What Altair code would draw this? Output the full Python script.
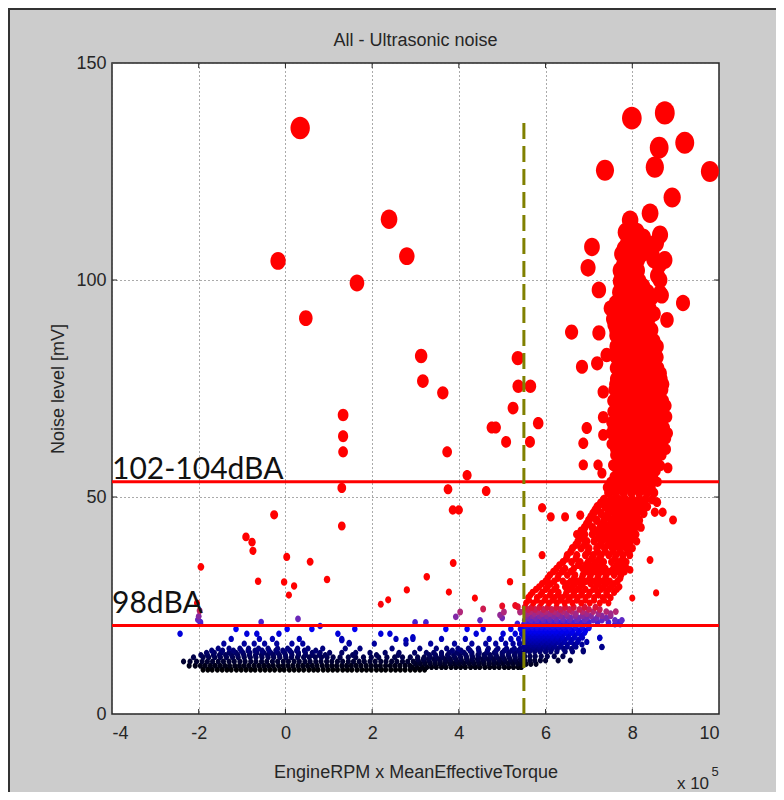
import altair as alt
import pandas as pd

# ---------------- data (x in units of 1e5, y in mV) ----------------
# isolated / large points
iso_x = [0.34, -0.17, 0.47, 1.65, 2.39, 2.8, 3.13, 3.17, 3.63, 3.73, 3.75, 3.86, 4.0, 4.19, 4.63,
         4.76, 4.85, 5.09, 5.25, 5.36, 5.37, 5.65, 5.64, 5.83, 5.92, 6.12, 6.45, 6.8,
         6.6, 6.84, 7.23, 7.23, 6.98, 7.07, 7.37, 7.99, 8.75, 8.52, 8.62, 9.21, 9.79, 8.92, 8.41,
         7.95, 8.64, 8.75, 7.76, 9.17, 8.8, 8.64, 8.64, 8.68,
         7.19, 7.41, 7.33, 7.33, 6.95, 7.33, 6.87, 6.87, 7.21, 7.55, 7.3, 8.82, 8.57, 8.52, 8.7,
         8.94, 8.18, 1.3, 1.3, 1.33, 1.33, 1.33, -0.26]
iso_y = [135, 104.4, 91.2, 99.3, 114, 105.5, 82.5, 76.7, 74, 60.4, 51.8, 47, 47, 55, 51.4,
         66, 66, 62.7, 70.5, 82, 75.5, 75.5, 62.7, 67, 47.5, 45.4, 45.4, 45.8,
         88, 80, 87.8, 97.7, 102.8, 107.6, 125.3, 137.3, 138.5, 126, 130.5, 131.6, 125, 119, 115.4,
         113.8, 110.4, 104.6, 106, 94.7, 90.8, 97, 100, 96.5,
         80.8, 82.7, 74.2, 68.4, 65.9, 64.3, 62.4, 57.4, 57.4, 57.4, 55.5, 56.7, 48.8, 46.5, 46.5,
         44.7, 47.5, 43.3, 52.1, 60.4, 64, 68.9, 45.9]

# small scattered red / purple / blue points
small_x = [-2.0, -1.98, -2.04, -1.95, -2.02, -1.96, -0.91, -0.77, -0.75, -0.63, -0.03, 0.2, 0.08,
           0.03, 0.57, 0.96, 2.2, 2.37, 2.8, 3.77, 4.37, 4.56, 5.18, 5.0, 3.26, 3.87,
           4.03, 3.93, 0.29, 4.49, 4.95, 5.04, 5.3, 5.41, 5.36, 5.0,
           -0.56, 0.8, 2.99, 3.24, -1.96, 5.35, 1.3, 1.47, 2.78, 2.94, 7.25, 7.3, 6.87,
           8.41, 8.55, 8.0, 7.95]
small_y = [22.5, 23.8, 25.6, 33.9, 21.7, 21.2, 40.8, 39.6, 37.6, 30.6, 30.4, 29.5, 27.4,
           36.2, 35.1, 31.0, 25.3, 26.3, 28.6, 28.1, 26.7, 24.2, 30.5, 24.9, 31.6, 34.8,
           23.5, 22.4, 21.9, 21.6, 22.8, 23.5, 25.0, 23.5, 24.7, 22.1,
           21.2, 20.3, 21.1, 21.1, 20.8, 20.8, 17.0, 16.4, 17.0, 17.7, 17.5, 15.4, 14.7,
           35.5, 27.9, 26.7, 33.2]

# dense dark band (rows: level, x values)
b102 = [-1.90, -1.79, -1.69, -1.57, -1.46, -1.35, -1.25, -1.13, -1.02, -0.91, -0.80, -0.70, -0.58,
        -0.47, -0.36, -0.25, -0.13, -0.03, 0.09, 0.20, 0.31, 0.42, 0.54, 0.65, 0.75, 0.87, 0.98,
        1.09, 1.20, 1.32, 1.43, 1.53, 1.65, 1.76, 1.87, 1.98, 2.10, 2.21, 2.31, 2.43, 2.54, 2.65,
        2.76, 2.88, 2.99, 3.10, 3.21]
b108 = [2.92, 3.03, 3.15, 3.26, 3.37, 3.48, 3.60, 3.70, 3.82, 3.93, 4.04, 4.15, 4.27, 4.38, 4.48,
        4.60, 4.71, 4.82, 4.93, 5.05, 5.15, 5.26, 5.37, 5.44]
b111 = [-2.22, -2.08, -1.96, -1.85, -1.73, -1.62, -1.51, -1.40, -1.29, -1.17, -1.06, -0.95, -0.84,
        -0.72, -0.61, -0.50, -0.39, -0.28, -0.16, -0.05, 0.06, 0.17, 0.29, 0.40, 0.51, 0.62, 0.73,
        0.85, 0.96, 1.07, 1.18, 1.30, 1.41, 1.52, 1.63, 1.74, 1.86, 1.97, 2.08, 2.19, 2.31, 2.42,
        2.53, 2.64, 2.76, 2.87]
b116 = [3.0, 3.11, 3.22, 3.34, 3.45, 3.56, 3.67, 3.79, 3.90, 4.01, 4.12, 4.24, 4.35, 4.46, 4.57,
        4.69, 4.80, 4.91, 5.02, 5.14, 5.25, 5.36, 5.45]
b121 = [-2.35, -2.2, -2.05, -1.92, -1.80, -1.68, -1.55, -1.43, -1.30, -1.18, -1.05, -0.93, -0.80,
        -0.68, -0.55, -0.43, -0.30, -0.18, -0.05, 0.07, 0.20, 0.32, 0.45, 0.57, 0.70, 0.82, 0.95,
        1.07, 1.20, 1.32, 1.45, 1.57, 1.70, 1.82, 1.95, 2.07, 2.20, 2.32, 2.45, 2.57, 2.70, 2.82,
        2.95, 3.07, 3.20, 3.32, 3.45, 3.57, 3.70, 3.82, 3.95, 4.07, 4.20, 4.32, 4.45, 4.57, 4.70,
        4.82, 4.95, 5.07, 5.20, 5.32, 5.44]
b126 = [3.05, 3.18, 3.3, 3.43, 3.55, 3.68, 3.8, 3.93, 4.05, 4.18, 4.3, 4.43, 4.55, 4.68, 4.8,
        4.93, 5.05, 5.18, 5.3, 5.42]
b131 = [-2.12, -1.9, -1.77, -1.63, -1.5, -1.36, -1.22, -1.09, -0.95, -0.81, -0.68, -0.54, -0.4,
        -0.27, -0.13, 0.01, 0.14, 0.28, 0.42, 0.55, 0.69, 0.83, 0.96, 1.1, 1.26, 1.45, 1.62, 1.8,
        1.98, 2.15, 2.34, 2.52, 2.7, 2.88, 3.05, 3.2, 3.34, 3.48, 3.62, 3.76, 3.9, 4.04, 4.18,
        4.32, 4.46, 4.6, 4.74, 4.88, 5.02, 5.16, 5.3, 5.43]
b136 = [-1.95, -1.8, -1.66, -1.52, -1.38, -1.24, -1.1, -0.96, -0.83, -0.69, -0.55, -0.41, -0.28,
        -0.14, 0.0, 0.15, 0.3, 0.46, 0.62, 0.78, 0.92, 1.55, 2.1, 2.6, 3.32, 3.46, 3.6, 3.74,
        3.88, 4.02, 4.16, 4.3, 4.44, 4.58, 4.72, 4.86, 5.0, 5.14, 5.28, 5.41]
b141 = [-1.82, -1.64, -1.48, -1.3, -1.14, -0.98, -0.82, -0.66, -0.5, -0.34, -0.18, -0.02, 0.14,
        0.3, 0.46, 0.62, 0.8, 1.02, 1.3, 1.62, 1.95, 2.3, 2.62, 2.98, 3.25, 3.42, 3.6, 3.78, 3.95,
        4.12, 4.3, 4.47, 4.64, 4.82, 5.0, 5.15, 5.3, 5.43]
b146 = [-1.7, -1.45, -1.2, -1.02, -0.86, -0.7, -0.54, -0.38, -0.22, -0.06, 0.1, 0.26, 0.44,
        0.7, 3.85, 4.05, 4.26, 4.46, 4.66, 4.86, 5.05, 5.22, 5.38]
b151 = [-1.55, -1.3, -1.05, -0.85, -0.62, -0.4, -0.18, 0.05, 0.28, 0.52, 0.86, 1.38, 1.72, 2.46,
        3.1, 3.48, 3.72, 3.98, 4.22, 4.45, 4.68, 4.9, 5.1, 5.28, 5.42]
b162 = [-1.42, -0.95, -0.72, -0.48, -0.2, 0.15, 0.4, 1.47, 2.05, 2.78, 3.35, 3.9, 4.3, 4.62, 4.85,
        5.08, 5.25, 5.4]
b173 = [-1.25, -0.6, -0.3, 0.32, 1.3, 2.55, 2.94, 3.6, 4.15, 4.7, 4.98, 5.2, 5.38]
b185 = [-2.43, -0.89, -0.66, -0.15, 1.21, 2.2, 2.41, 4.4, 5.02, 5.3, 5.45]
b196 = [-1.14, 0.04, 0.61, 1.6, 3.7, 4.19, 4.56, 5.2, 5.42]

# blue / purple cluster right of the dashed line
c115 = [5.55, 5.66, 5.78]
c123 = [5.52, 5.64, 5.75, 5.88, 6.0, 6.29, 6.57]
c133 = [5.52, 5.64, 5.76, 5.9, 6.04, 6.2, 6.4]
c144 = [5.52, 5.63, 5.75, 5.87, 6.0, 6.12, 6.26, 6.45, 6.62, 6.87]
c150 = [5.55, 5.67, 5.79, 5.9, 6.02, 6.14, 6.27, 6.42, 6.6]
c155 = [5.5, 5.6, 5.72, 5.84, 5.96, 6.08, 6.2, 6.34, 6.5, 6.7, 7.3]
c160 = [5.55, 5.65, 5.76, 5.86, 5.98, 6.1, 6.22, 6.36, 6.5, 6.66, 6.84]
c166 = [5.5, 5.6, 5.7, 5.8, 5.92, 6.04, 6.16, 6.28, 6.42, 6.58, 6.74, 6.95]
c171 = [5.55, 5.65, 5.75, 5.85, 5.96, 6.08, 6.2, 6.32, 6.45, 6.6, 6.76]
c176 = [5.5, 5.6, 5.7, 5.8, 5.9, 6.02, 6.14, 6.26, 6.38, 6.52, 6.66, 6.85, 7.25]
c181 = [5.55, 5.65, 5.75, 5.85, 5.95, 6.06, 6.16, 6.28, 6.4, 6.53, 6.68, 6.82]
c187 = [5.5, 5.6, 5.7, 5.8, 5.9, 6.0, 6.1, 6.22, 6.34, 6.46, 6.6, 6.75, 6.9]
c192 = [5.55, 5.65, 5.75, 5.85, 5.95, 6.05, 6.16, 6.26, 6.38, 6.5, 6.63, 6.78, 6.92]
c198 = [5.5, 5.6, 5.7, 5.8, 5.9, 6.0, 6.1, 6.2, 6.32, 6.44, 6.56, 6.7, 6.85, 7.0]
c202 = [5.56, 5.68, 5.8, 5.92, 6.04, 6.16, 6.28, 6.4, 6.53, 6.68, 6.84, 7.0]
c207 = [5.5, 5.62, 5.74, 5.86, 5.98, 6.1, 6.22, 6.34, 6.46, 6.6, 6.75, 6.92, 7.6, 7.72]
c211 = [5.58, 5.72, 5.88, 6.02, 6.16, 6.3, 6.46, 6.62, 6.8, 7.0, 7.2, 7.45, 7.68]
c216 = [5.52, 5.66, 5.8, 5.95, 6.1, 6.25, 6.4, 6.55, 6.72, 6.9, 7.1, 7.3, 7.6, 7.76]
c221 = [5.6, 5.76, 5.92, 6.08, 6.24, 6.4, 6.58, 6.76, 6.95, 7.18, 7.4]
c226 = [5.55, 5.7, 5.86, 6.02, 6.18, 6.34, 6.5, 6.68, 6.85, 7.05, 7.3, 7.5]
c231 = [5.58, 5.74, 5.92, 6.1, 6.28, 6.48, 6.7, 6.95, 7.22, 7.5]
c236 = [5.5, 5.65, 5.82, 6.0, 6.2, 6.4, 6.6, 6.85, 7.1, 7.4, 7.62]
c241 = [5.6, 5.76, 5.95, 6.14, 6.34, 6.55, 6.78, 7.0, 7.25]
c246 = [5.52, 5.68, 5.86, 6.05, 6.25, 6.45, 6.65, 6.9, 7.15]

# red rising cloud
r256 = [5.55, 5.72, 5.9, 6.08, 6.26, 6.44, 6.62, 6.82, 7.02, 7.25, 7.45]
r262 = [5.62, 5.8, 5.98, 6.16, 6.34, 6.52, 6.72, 6.92, 7.12, 7.35]
r268 = [5.6, 5.8, 6.0, 6.2, 6.38, 6.56, 6.74, 6.92, 7.12, 7.32, 7.5]
r274 = [5.65, 5.88, 6.1, 6.28, 6.46, 6.64, 6.82, 7.0, 7.22, 7.42]
r280 = [5.7, 5.92, 6.12, 6.3, 6.48, 6.66, 6.84, 7.02, 7.2, 7.4, 7.58]
r287 = [5.78, 6.0, 6.2, 6.56, 6.74, 6.92, 7.1, 7.28, 7.46, 7.64]
r293 = [5.85, 6.05, 6.25, 6.45, 6.62, 6.8, 7.16, 7.34, 7.52, 7.7]
r300 = [5.92, 6.12, 6.5, 6.68, 6.86, 7.04, 7.22, 7.4, 7.58]
r306 = [6.0, 6.2, 6.4, 6.58, 6.76, 6.94, 7.12, 7.3, 7.48, 7.66]
r313 = [6.05, 6.28, 6.66, 6.84, 7.02, 7.2, 7.38, 7.72]
r320 = [6.1, 6.3, 6.5, 6.68, 6.86, 7.04, 7.22, 7.4, 7.58, 7.74]
r328 = [6.18, 6.38, 6.58, 6.94, 7.12, 7.3, 7.48, 7.66, 7.82]
r335 = [6.25, 6.45, 6.65, 6.85, 7.03, 7.2, 7.38, 7.56, 7.72, 7.88]
r343 = [6.32, 6.75, 6.92, 7.1, 7.28, 7.64, 7.8]
r350 = [6.4, 6.6, 6.8, 6.98, 7.16, 7.34, 7.52, 7.7, 7.86]
r358 = [6.48, 6.7, 7.06, 7.24, 7.6, 7.78]
r366 = [5.92, 6.5, 6.72, 6.92, 7.1, 7.28, 7.46, 7.62, 7.78, 7.94]
r374 = [6.58, 6.98, 7.2, 7.38, 7.56, 7.72, 7.9]
r382 = [6.62, 6.82, 7.0, 7.18, 7.36, 7.54, 7.7, 7.86, 8.0]
r390 = [6.7, 6.9, 7.26, 7.44, 7.6, 7.76, 7.92]
r398 = [6.75, 6.95, 7.12, 7.3, 7.48, 7.64, 7.8, 7.96, 8.1]
r406 = [6.85, 7.22, 7.38, 7.56, 7.72, 7.88, 8.04]
r414 = [6.72, 6.9, 7.08, 7.26, 7.44, 7.6, 7.76, 7.92, 8.08]
r422 = [6.82, 7.18, 7.35, 7.52, 7.68, 7.84, 8.0]
r430 = [6.9, 7.08, 7.26, 7.42, 7.58, 7.74, 7.9, 8.06, 8.2]
r438 = [6.95, 7.32, 7.5, 7.66, 7.82, 7.98, 8.14]
r446 = [7.0, 7.18, 7.35, 7.52, 7.68, 7.84, 8.0, 8.16]
r454 = [7.05, 7.42, 7.6, 7.76, 7.92, 8.08]
r462 = [7.1, 7.28, 7.45, 7.62, 7.78, 7.94, 8.1, 8.26]
r470 = [7.15, 7.5, 7.68, 7.84, 8.0, 8.16]
r478 = [7.2, 7.38, 7.55, 7.72, 7.88, 8.04, 8.18, 8.34]
r486 = [7.28, 7.45, 7.62, 7.78, 7.94, 8.1, 8.24]
r494 = [7.35, 7.52, 7.68, 7.84, 8.0, 8.16, 8.3, 8.46]

# dense red column
k510 = [7.45, 7.62, 7.8, 7.98, 8.16, 8.34, 8.5]
k522 = [7.42, 7.56, 7.72, 7.9, 8.08, 8.26, 8.44]
k535 = [7.5, 7.68, 7.86, 8.04, 8.22, 8.4, 8.58]
k547 = [7.58, 7.77, 7.95, 8.13, 8.31, 8.49]
k560 = [7.65, 7.84, 8.02, 8.2, 8.38, 8.55]
k572 = [7.56, 7.74, 7.93, 8.11, 8.29, 8.47, 8.65]
k585 = [7.68, 7.86, 8.04, 8.22, 8.4, 8.58]
k597 = [7.6, 7.77, 7.95, 8.13, 8.31, 8.49, 8.68]
k610 = [7.6, 7.8, 8.0, 8.2, 8.4, 8.6, 8.78]
k622 = [7.52, 7.7, 7.9, 8.1, 8.3, 8.5, 8.7]
k635 = [7.58, 7.78, 7.98, 8.18, 8.38, 8.58, 8.78]
k647 = [7.5, 7.68, 7.88, 8.08, 8.28, 8.48, 8.68, 8.82]
k660 = [7.55, 7.75, 7.95, 8.15, 8.35, 8.55, 8.75]
k672 = [7.52, 7.7, 7.9, 8.1, 8.3, 8.5, 8.7]
k685 = [7.6, 7.8, 8.0, 8.2, 8.4, 8.6, 8.8]
k697 = [7.55, 7.72, 7.92, 8.12, 8.32, 8.52, 8.72]
k710 = [7.62, 7.82, 8.02, 8.22, 8.42, 8.62, 8.78]
k722 = [7.55, 7.74, 7.94, 8.14, 8.34, 8.54, 8.72]
k735 = [7.65, 7.85, 8.05, 8.25, 8.45, 8.65]
k747 = [7.58, 7.76, 7.96, 8.16, 8.36, 8.56, 8.7]
k760 = [7.6, 7.8, 8.0, 8.2, 8.4, 8.6, 8.72]
k772 = [7.62, 7.72, 7.92, 8.12, 8.32, 8.52, 8.68]
k785 = [7.68, 7.88, 8.08, 8.28, 8.48, 8.66]
k797 = [7.62, 7.8, 8.0, 8.2, 8.4, 8.6]
k810 = [7.7, 7.9, 8.1, 8.3, 8.5]
k822 = [7.62, 7.8, 8.0, 8.2, 8.4, 8.58]
k835 = [7.68, 7.88, 8.08, 8.28, 8.48]
k847 = [7.62, 7.8, 8.0, 8.2, 8.4, 8.58]
k860 = [7.7, 7.9, 8.1, 8.3, 8.5]
k872 = [7.62, 7.8, 8.0, 8.2, 8.4]
k885 = [7.62, 7.82, 8.02, 8.22, 8.45]
k897 = [7.58, 7.72, 7.92, 8.12, 8.34]
k910 = [7.55, 7.75, 7.95, 8.15, 8.38]
k922 = [7.6, 7.85, 8.05, 8.28, 8.5]
k935 = [7.5, 7.72, 7.95, 8.18, 8.4]
k947 = [7.62, 7.85, 8.08, 8.3]
k960 = [7.75, 8.0, 8.22, 8.45]
k972 = [7.7, 7.92, 8.12, 8.35]
k985 = [7.8, 8.05, 8.25]
k997 = [7.72, 7.95, 8.16]
k1010 = [7.85, 8.1, 8.58]
k1022 = [7.72, 7.95, 8.12]
k1035 = [7.8, 8.05, 8.62]
k1047 = [7.9, 8.12, 8.5]
k1060 = [7.95, 8.2, 8.45]
k1072 = [7.82, 8.05, 8.3]
k1085 = [7.9, 8.15, 8.55]
k1097 = [7.95, 8.25]
k1110 = [7.85, 8.1]

ROWS = [
    (10.2, b102), (10.8, b108), (11.1, b111), (11.6, b116), (12.1, b121), (12.6, b126),
    (13.1, b131), (13.6, b136), (14.1, b141), (14.6, b146), (15.1, b151), (16.2, b162),
    (17.3, b173), (18.5, b185), (19.6, b196),
    (11.5, c115), (12.3, c123), (13.3, c133), (14.4, c144), (15.0, c150), (15.5, c155),
    (16.0, c160), (16.6, c166), (17.1, c171), (17.6, c176), (18.1, c181), (18.7, c187),
    (19.2, c192), (19.8, c198), (20.2, c202), (20.7, c207), (21.1, c211), (21.6, c216),
    (22.1, c221), (22.6, c226), (23.1, c231), (23.6, c236), (24.1, c241), (24.6, c246),
    (25.6, r256), (26.2, r262), (26.8, r268), (27.4, r274), (28.0, r280), (28.7, r287),
    (29.3, r293), (30.0, r300), (30.6, r306), (31.3, r313), (32.0, r320), (32.8, r328),
    (33.5, r335), (34.3, r343), (35.0, r350), (35.8, r358), (36.6, r366), (37.4, r374),
    (38.2, r382), (39.0, r390), (39.8, r398), (40.6, r406), (41.4, r414), (42.2, r422),
    (43.0, r430), (43.8, r438), (44.6, r446), (45.4, r454), (46.2, r462), (47.0, r470),
    (47.8, r478), (48.6, r486), (49.4, r494),
    (51.0, k510), (52.2, k522), (53.5, k535), (54.7, k547), (56.0, k560), (57.2, k572),
    (58.5, k585), (59.7, k597), (61.0, k610), (62.2, k622), (63.5, k635), (64.7, k647),
    (66.0, k660), (67.2, k672), (68.5, k685), (69.7, k697), (71.0, k710), (72.2, k722),
    (73.5, k735), (74.7, k747), (76.0, k760), (77.2, k772), (78.5, k785), (79.7, k797),
    (81.0, k810), (82.2, k822), (83.5, k835), (84.7, k847), (86.0, k860), (87.2, k872),
    (88.5, k885), (89.7, k897), (91.0, k910), (92.2, k922), (93.5, k935), (94.7, k947),
    (96.0, k960), (97.2, k972), (98.5, k985), (99.7, k997), (101.0, k1010), (102.2, k1022),
    (103.5, k1035), (104.7, k1047), (106.0, k1060), (107.2, k1072), (108.5, k1085),
    (109.7, k1097), (111.0, k1110),
]

limit_levels = [53.5, 20.4]
limit_labels = ["102-104dBA", "98dBA"]
limit_label_y = [54.1, 23.3]
threshold_x = [5.5]
threshold_top = [137]
x_ticks = [-4, -2, 0, 2, 4, 6, 8, 10]
y_ticks = [0, 50, 100, 150]
title_text = "All - Ultrasonic noise"

# ---------------- build tables ----------------
xs, ys = list(iso_x) + list(small_x), list(iso_y) + list(small_y)
for lvl, row in ROWS:
    xs += row
    ys += [lvl] * len(row)
pts = pd.DataFrame({"x": xs, "y": ys}).sort_values("y", kind="stable")

FONT = "Liberation Sans"
TXT = "#262626"
W, H = 607, 651
ELLIPSE = "M-0.86,0A0.86,1,0,1,0,0.86,0A0.86,1,0,1,0,-0.86,0Z"

xscale = alt.Scale(domain=[-4, 10], nice=False, zero=False)
yscale = alt.Scale(domain=[0, 150], nice=False, zero=False)

xaxis = alt.Axis(values=x_ticks, labelExpr="'' + datum.value", grid=True, gridDash=[1, 3],
                 gridColor="#555555", domain=False, ticks=False, tickSize=0,
                 labelFont=FONT, labelFontSize=18, labelColor=TXT, labelPadding=10,
                 title="EngineRPM x MeanEffectiveTorque", titleFont=FONT, titleFontSize=18,
                 titleFontWeight="normal", titleColor=TXT, titleY=58, titleBaseline="middle")
yaxis = alt.Axis(values=y_ticks, labelExpr="'' + datum.value", grid=True, gridDash=[1, 3],
                 gridColor="#555555", domain=False, ticks=False, tickSize=0,
                 labelFont=FONT, labelFontSize=18, labelColor=TXT, labelPadding=6,
                 title="Noise level [mV]", titleFont=FONT, titleFontSize=18,
                 titleFontWeight="normal", titleColor=TXT, titleX=-54, titleY=H / 2,
                 titleBaseline="middle", titleAlign="center")

points = alt.Chart(pts).mark_point(filled=True, opacity=1, shape=ELLIPSE, strokeWidth=0).encode(
    x=alt.X("x:Q", scale=xscale, axis=xaxis),
    y=alt.Y("y:Q", scale=yscale, axis=yaxis),
    color=alt.Color("y:Q", legend=None, scale=alt.Scale(
        domain=[10, 12, 14.5, 17, 19.5, 21.5, 23.5, 25.5],
        range=["#000000", "#00002e", "#000070", "#0000b0", "#0000f5", "#5a28c8", "#b0287a", "#ff0000"],
        clamp=True, interpolate="rgb")),
    size=alt.Size("y:Q", legend=None, scale=alt.Scale(type="pow", exponent=2, domain=[0, 150],
                                                      range=[32, 620])),
)

hlines = alt.Chart(pd.DataFrame({"y": limit_levels})).mark_rule(color="#ff0000", strokeWidth=3).encode(
    y=alt.Y("y:Q", scale=yscale))

vline = alt.Chart(pd.DataFrame({"x": threshold_x, "y0": [0], "y1": threshold_top})).mark_rule(
    color="#808000", strokeWidth=3, strokeDash=[16, 7]).encode(
    x=alt.X("x:Q", scale=xscale), y=alt.Y("y0:Q", scale=yscale), y2="y1:Q")

labels = alt.Chart(pd.DataFrame({"x": [-4, -4], "y": limit_label_y, "t": limit_labels})).mark_text(
    font="Lato", fontSize=30, align="left", baseline="alphabetic", color="#111111", dx=0).encode(
    x=alt.X("x:Q", scale=xscale), y=alt.Y("y:Q", scale=yscale), text="t:N")

inner_x = pd.DataFrame({"v": x_ticks[1:-1]})
inner_y = pd.DataFrame({"v": y_ticks[1:-1]})
tick_style = dict(color="#262626", strokeWidth=1)
tb = alt.Chart(inner_x).mark_rule(**tick_style).encode(x=alt.X("v:Q", scale=xscale), y=alt.value(H), y2=alt.value(H - 5))
tt = alt.Chart(inner_x).mark_rule(**tick_style).encode(x=alt.X("v:Q", scale=xscale), y=alt.value(0), y2=alt.value(5))
tl = alt.Chart(inner_y).mark_rule(**tick_style).encode(y=alt.Y("v:Q", scale=yscale), x=alt.value(0), x2=alt.value(5))
tr = alt.Chart(inner_y).mark_rule(**tick_style).encode(y=alt.Y("v:Q", scale=yscale), x=alt.value(W), x2=alt.value(W - 5))

one = pd.DataFrame({"a": [0]})
title_mark = alt.Chart(one).mark_text(font=FONT, fontSize=18, color=TXT, align="center", baseline="alphabetic").encode(
    x=alt.value(W / 2), y=alt.value(-17), text=alt.value(title_text))
exp_base = alt.Chart(one).mark_text(font=FONT, fontSize=17, color=TXT, align="center", baseline="alphabetic").encode(
    x=alt.value(581), y=alt.value(726), text=alt.value("x 10"))
exp_sup = alt.Chart(one).mark_text(font=FONT, fontSize=13, color=TXT, align="center", baseline="alphabetic").encode(
    x=alt.value(603), y=alt.value(713), text=alt.value("5"))
border_l = alt.Chart(one).mark_rule(color="#333333", strokeWidth=2).encode(
    x=alt.value(-103), y=alt.value(-55), y2=alt.value(729))
border_t = alt.Chart(one).mark_rule(color="#333333", strokeWidth=2).encode(
    y=alt.value(-54), x=alt.value(-104), x2=alt.value(664))

chart = alt.layer(points, hlines, vline, labels, tb, tt, tl, tr, title_mark, exp_base, exp_sup,
                  border_l, border_t).properties(
    width=W, height=H,
    autosize=alt.AutoSizeParams(type="none"),
    padding={"left": 104, "top": 55, "right": 57, "bottom": 78},
    background="#cccccc",
).configure_view(stroke="#262626", strokeWidth=1.5, fill="white")

chart.save("out.html", embed_options={"renderer": "svg", "actions": False})
